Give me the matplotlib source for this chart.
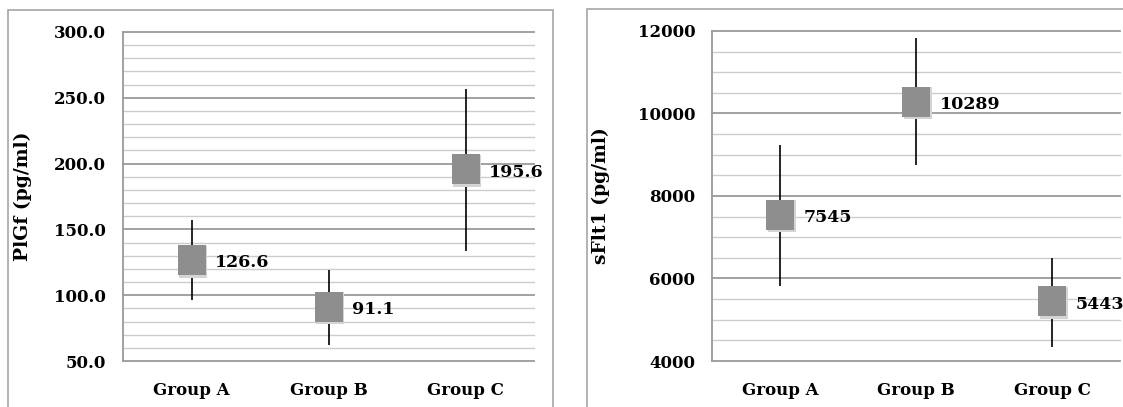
import matplotlib.pyplot as plt
import matplotlib.transforms as mtransforms
from matplotlib.patches import Rectangle
from matplotlib.ticker import MultipleLocator
import numpy as np

# =========================
# DATA
# =========================
groups = ["Group A", "Group B", "Group C"]

plgf_mean = [126.6, 91.1, 195.6]
plgf_high = [156.8, 119.2, 256.8]
plgf_low = [96.2, 62.4, 133.6]

sflt_mean = [7545, 10289, 5443]
sflt_high = [9236, 11838, 6505]
sflt_low = [5826, 8752, 4347]

# =========================
# STYLE
# =========================
FONT = ["DejaVu Serif"]
BOX_COLOR = "#8e8e8e"
MAJOR_GRID = "#9a9a9a"
MINOR_GRID = "#cccccc"

# rectangle marker a bit taller than wide
box_marker = [(-28, -31), (28, -31), (28, 31), (-28, 31), (-28, -31)]

fig = plt.figure(figsize=(11.23, 4.07), dpi=100)
W, H = 1123, 407


def px_axes(left, top, right, bottom):
    return fig.add_axes([left / W, 1 - bottom / H, (right - left) / W, (bottom - top) / H])


def panel_border(left, top, right, bottom):
    fig.patches.append(Rectangle((left / W, 1 - bottom / H), (right - left) / W, (bottom - top) / H,
                                 transform=fig.transFigure, fill=False,
                                 edgecolor="#a6a6a6", linewidth=1.2, zorder=0))


def draw_panel(ax, means, highs, lows, ylim, major, minor, fmt, ylabel):
    x = np.arange(len(groups))
    ax.set_xlim(-0.5, len(groups) - 0.5)
    ax.set_ylim(*ylim)

    # gridlines drawn by hand so major / minor get different shades
    n_lines = int(round((ylim[1] - ylim[0]) / minor))
    for i in range(n_lines + 1):
        v = ylim[0] + i * minor
        is_major = i % int(round(major / minor)) == 0
        ax.axhline(v, color=MAJOR_GRID if is_major else MINOR_GRID,
                   linewidth=1.3 if is_major else 1.0, zorder=1, clip_on=False)

    ax.vlines(x, lows, highs, color="black", linewidth=1.2, zorder=3)
    # soft shadow
    shadow = ax.transData + mtransforms.ScaledTranslation(1.5 / 100, -1.5 / 100, fig.dpi_scale_trans)
    ax.plot(x, means, linestyle="none", marker=box_marker, markersize=23,
            color="#d4d4d4", markeredgewidth=0, zorder=3.5, transform=shadow)
    ax.plot(x, means, linestyle="none", marker=box_marker, markersize=22.3,
            color=BOX_COLOR, markeredgewidth=0, zorder=4)

    for xi, m in zip(x, means):
        ax.annotate(fmt.format(m), (xi, m), xytext=(17, -2), textcoords="offset points",
                    ha="left", va="center", fontsize=12.5, fontweight="bold",
                    family=FONT, zorder=5, annotation_clip=False)

    ax.yaxis.set_major_locator(MultipleLocator(major))
    ax.yaxis.set_major_formatter(plt.FuncFormatter(lambda v, p: fmt.format(v)))
    ax.set_xticks(x)
    ax.set_xticklabels(groups)
    ax.tick_params(axis="both", length=0, labelsize=12)
    ax.tick_params(axis="y", pad=12)
    ax.tick_params(axis="x", pad=15)
    for lab in ax.get_xticklabels() + ax.get_yticklabels():
        lab.set_fontweight("bold")
        lab.set_family(FONT)

    for s in ["top", "right", "bottom"]:
        ax.spines[s].set_visible(False)
    ax.spines["left"].set_color(MAJOR_GRID)
    ax.spines["left"].set_linewidth(1.3)
    ax.set_facecolor("none")

    ax.set_ylabel(ylabel, fontsize=13.5, fontweight="bold", family=FONT)


# =========================
# LEFT PANEL: PlGf
# =========================
panel_border(8, 10, 553, 420)
ax1 = px_axes(123, 32, 534, 361)
draw_panel(ax1, plgf_mean, plgf_high, plgf_low, (50, 300), 50, 10, "{:.1f}", "PlGf (pg/ml)")
ax1.yaxis.set_label_coords(-91 / 411, 0.5)

# =========================
# RIGHT PANEL: sFlt1
# =========================
panel_border(587, 9, 1140, 420)
ax2 = px_axes(712, 31, 1120, 361)
draw_panel(ax2, sflt_mean, sflt_high, sflt_low, (4000, 12000), 2000, 500, "{:.0f}", "sFlt1 (pg/ml)")
ax2.yaxis.set_label_coords(-102 / 408, 0.5)

fig.savefig("out.png", dpi=100)
